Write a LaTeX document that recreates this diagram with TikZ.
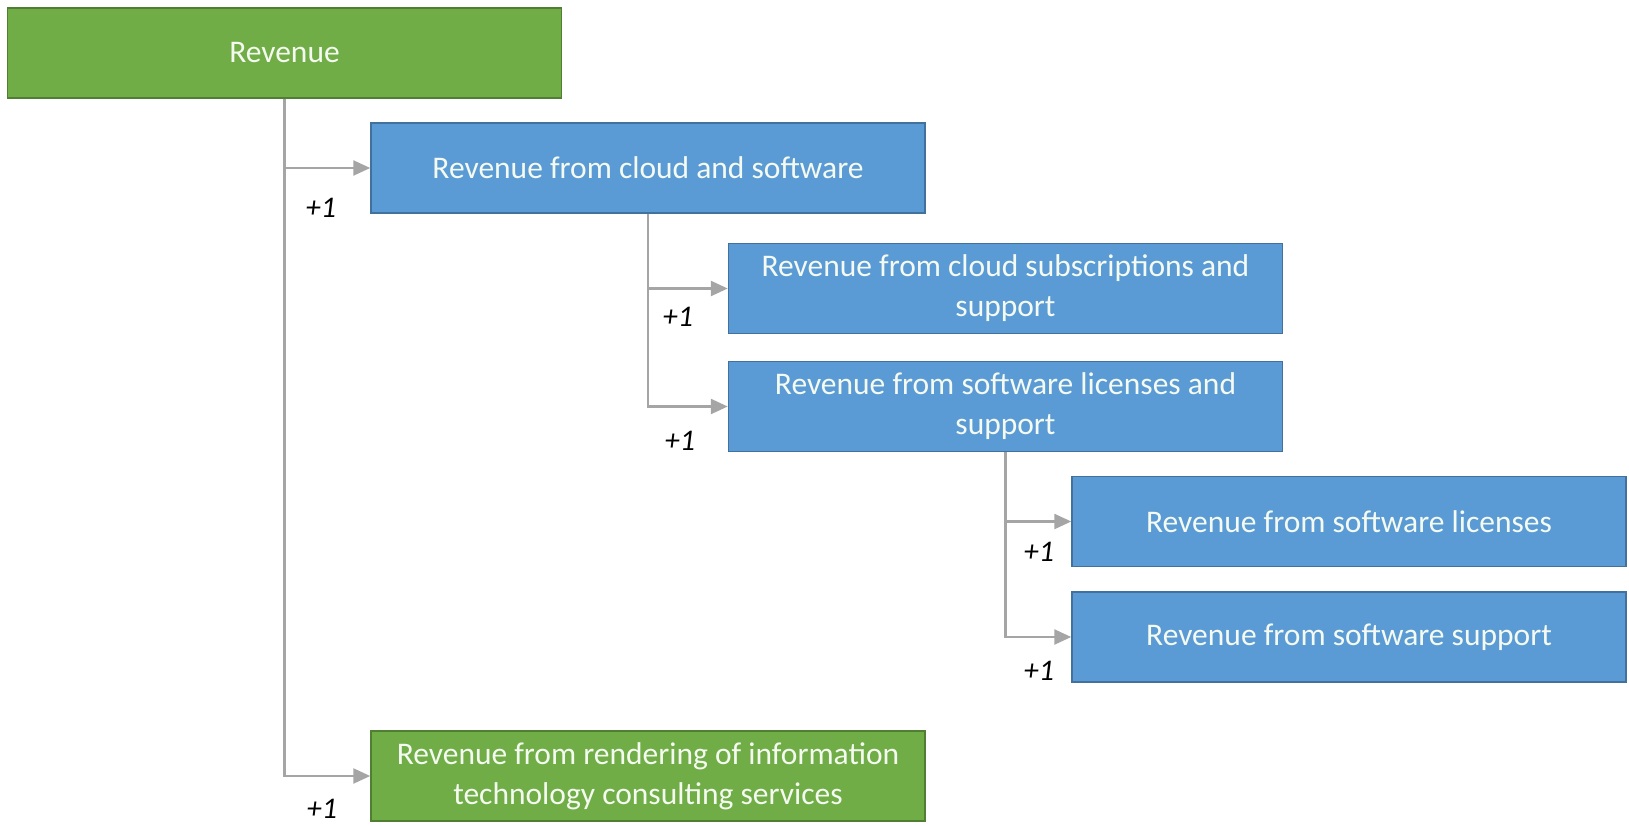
\documentclass[tikz,border=0pt]{standalone}
\usepackage{fontspec}
\setmainfont{Carlito}
\usetikzlibrary{arrows.meta}

\definecolor{revgreen}{HTML}{70AD47}
\definecolor{revgreenline}{HTML}{507E32}
\definecolor{revblue}{HTML}{5B9BD5}
\definecolor{revblueline}{HTML}{41719C}
\definecolor{linkgray}{HTML}{A5A5A5}
\definecolor{itemtext}{HTML}{F4FAF0}

\tikzset{
  item/.style={minimum width=554pt, minimum height=90pt, inner sep=0pt,
    align=center, text=itemtext, line width=1.5pt,
    font=\fontsize{31.5}{40}\selectfont},
  gitem/.style={item, fill=revgreen, draw=revgreenline},
  bitem/.style={item, fill=revblue, draw=revblueline},
  link/.style={draw=linkgray, line width=2.5pt, -{Triangle[length=17pt,width=15pt]}},
  plus/.style={font=\fontsize{30}{32}\selectfont\itshape, inner sep=0pt}
}

\begin{document}
\begin{tikzpicture}[x=1pt,y=-1pt]
   \useasboundingbox (0,0) rectangle (1629,826);

   \node[gitem] (rev) at (284.5,53)   {Revenue};
   \node[bitem] (cs)  at (648,168)    {Revenue from cloud and software};
   \node[bitem] (sub) at (1005.5,288.5) {Revenue from cloud subscriptions and\\support};
   \node[bitem] (lic) at (1005.5,406.5) {Revenue from software licenses and\\support};
   \node[bitem] (sl)  at (1349,521.5) {Revenue from software licenses};
   \node[bitem] (ss)  at (1349,637)   {Revenue from software support};
   \node[gitem] (it)  at (648,776)    {Revenue from rendering of information\\technology consulting services};

   \path[link] (rev.south) |- (cs.west);
   \path[link] (rev.south) |- (it.west);
   \path[link] (cs.south) |- (sub.west);
   \path[link] (cs.south) |- (lic.west);
   \path[link] (lic.south) |- (sl.west);
   \path[link] (lic.south) |- (ss.west);

   \node[plus] (p1) at (321,208)  {+1};
   \node[plus] (p2) at (678,317)  {+1};
   \node[plus] (p3) at (680,441)  {+1};
   \node[plus] (p4) at (1039,552) {+1};
   \node[plus] (p5) at (1039,671) {+1};
   \node[plus] (p6) at (322,809)  {+1};

\end{tikzpicture}
\end{document}
